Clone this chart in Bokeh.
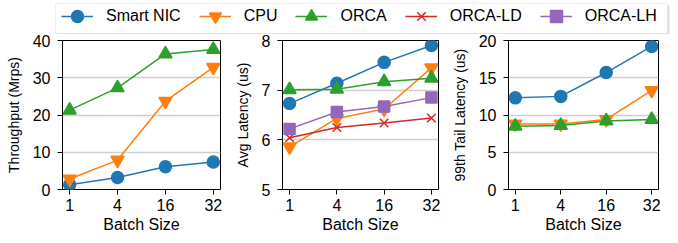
from bokeh.plotting import figure
from bokeh.models import Range1d, FixedTicker, Legend, LegendItem, BoxAnnotation
from bokeh.layouts import column, row
from bokeh.embed import file_html
from bokeh.resources import INLINE

# ---- data ----
batch_sizes = ["1", "4", "16", "32"]

thr_smartnic = [1.3, 3.2, 6.1, 7.4]
thr_cpu = [2.8, 7.9, 23.7, 32.8]
thr_orca = [21.3, 27.3, 36.4, 37.6]

avg_smartnic = [6.73, 7.14, 7.56, 7.90]
avg_cpu = [5.86, 6.43, 6.62, 7.45]
avg_orca = [7.01, 7.02, 7.17, 7.24]
avg_orca_ld = [6.04, 6.25, 6.34, 6.44]
avg_orca_lh = [6.22, 6.56, 6.67, 6.85]

tail_smartnic = [12.3, 12.5, 15.7, 19.2]
tail_cpu = [8.8, 8.8, 9.4, 13.3]
tail_orca = [8.5, 8.6, 9.2, 9.4]

thr_ticks = [0, 10, 20, 30, 40]
avg_ticks = [5, 6, 7, 8]
tail_ticks = [0, 5, 10, 15, 20]

series_names = ["Smart NIC", "CPU", "ORCA", "ORCA-LD", "ORCA-LH"]
colors = ["#1f77b4", "#ff7f0e", "#2ca02c", "#d62728", "#9467bd"]
markers = ["circle", "inverted_triangle", "triangle", "x", "square"]
msizes = [12, 13, 13, 12, 11]

FONT = "Liberation Sans"
xs = list(range(len(batch_sizes)))


def make_panel(ylabel, yticks, series, width, left, right):
    p = figure(width=width, height=209, output_backend="svg", toolbar_location=None,
               x_range=Range1d(-0.15, 3.15), y_range=Range1d(yticks[0], yticks[-1]),
               min_border_left=left, min_border_right=right, min_border_top=6,
               min_border_bottom=54)
    p.outline_line_color = "black"
    p.outline_line_width = 1
    p.xgrid.visible = False
    p.ygrid.grid_line_color = "#cfcfcf"
    p.ygrid.grid_line_width = 1.5
    p.xaxis.ticker = FixedTicker(ticks=xs)
    p.xaxis.major_label_overrides = {i: b for i, b in zip(xs, batch_sizes)}
    p.yaxis.ticker = FixedTicker(ticks=yticks)
    for ax in (p.xaxis[0], p.yaxis[0]):
        ax.axis_line_color = None
        ax.major_tick_in = 0
        ax.major_tick_out = 5
        ax.major_tick_line_color = "black"
        ax.minor_tick_line_color = None
        ax.major_label_text_font = FONT
        ax.major_label_text_font_size = "16px"
        ax.major_label_text_color = "black"
        ax.axis_label_text_font = FONT
        ax.axis_label_text_font_style = "normal"
        ax.axis_label_text_color = "black"
    p.xaxis.axis_label = "Batch Size"
    p.xaxis.axis_label_text_font_size = "16px"
    p.xaxis.major_label_standoff = 4
    p.xaxis.axis_label_standoff = 2
    p.yaxis.axis_label = ylabel
    p.yaxis.axis_label_text_font_size = "14px"
    p.yaxis.major_label_standoff = 7
    p.yaxis.axis_label_standoff = 8
    for idx, vals in series:
        p.line(xs, vals, line_color=colors[idx], line_width=1.5)
        p.scatter(xs, vals, marker=markers[idx], size=msizes[idx],
                  fill_color=colors[idx], line_color=colors[idx], line_width=1.5)
    return p


p1 = make_panel("Throughput (Mrps)", thr_ticks,
                [(0, thr_smartnic), (1, thr_cpu), (2, thr_orca)], 228, 62, 8)
p2 = make_panel("Avg Latency (us)", avg_ticks,
                [(0, avg_smartnic), (1, avg_cpu), (2, avg_orca), (3, avg_orca_ld), (4, avg_orca_lh)],
                220, 54, 10)
p3 = make_panel("99th Tail Latency (us)", tail_ticks,
                [(0, tail_smartnic), (1, tail_cpu), (2, tail_orca)], 230, 53, 20)

# ---- legend strip (pixel-mapped ranges, offset so the sample series stay off-canvas) ----
X0 = -1000
leg = figure(width=678, height=34, output_backend="svg", toolbar_location=None,
             x_range=Range1d(X0, X0 + 678), y_range=Range1d(0, 34),
             x_axis_location=None, y_axis_location=None, min_border=0)
leg.outline_line_color = None
leg.grid.visible = False
shadow = BoxAnnotation(left=X0 + 57, right=X0 + 669, bottom=-1, top=29,
                       fill_color="#c8c8c8", fill_alpha=0.6, line_color=None)
box = BoxAnnotation(left=X0 + 55, right=X0 + 667, bottom=1, top=31,
                    fill_color="white", fill_alpha=1, line_color="#cccccc", line_width=1)
leg.add_layout(shadow)
leg.add_layout(box)
legend_source = [avg_smartnic, avg_cpu, avg_orca, avg_orca_ld, avg_orca_lh]
items = []
for i, name in enumerate(series_names):
    r1 = leg.line(xs, legend_source[i], line_color=colors[i], line_width=1.5)
    r2 = leg.scatter(xs, legend_source[i], marker=markers[i], size=msizes[i],
                     fill_color=colors[i], line_color=colors[i], line_width=1.5)
    items.append(LegendItem(label=name, renderers=[r1, r2]))
legend = Legend(items=items, orientation="horizontal", location=(61, 3),
                glyph_width=32, glyph_height=30, label_height=30, label_standoff=13,
                spacing=18, padding=0, margin=0,
                border_line_color=None, background_fill_alpha=0,
                label_text_font=FONT, label_text_font_size="16px", label_text_color="black")
leg.add_layout(legend)

layout = column(leg, row(p1, p2, p3))
open("out.html", "w").write(file_html(layout, INLINE))
